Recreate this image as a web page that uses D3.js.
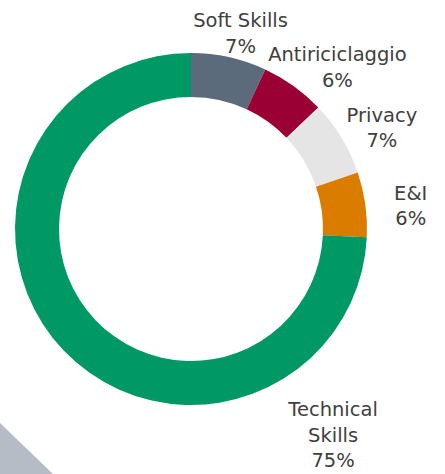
<!DOCTYPE html>
<html>
<head>
<meta charset="utf-8">
<script src="https://cdn.jsdelivr.net/npm/d3@7"></script>
<style>
  html, body { margin: 0; padding: 0; background: #fff; }
  svg { display: block; }
</style>
</head>
<body>
<div id="chart-div"></div>
<script>
// slices, clockwise from 12 o'clock
const categories = ["Soft Skills", "Antiriciclaggio", "Privacy", "E&I", "Technical Skills"];
const labelLines = [["Soft Skills"], ["Antiriciclaggio"], ["Privacy"], ["E&I"], ["Technical", "Skills"]];
const values = [7, 6, 7, 6, 75];
const pctLabels = ["7%", "6%", "7%", "6%", "75%"];
const colors = ["#5b6b7c", "#9a0033", "#e5e5e5", "#d97c00", "#009966"];

const width = 445;
const height = 474;
const cx = 191, cy = 229;
const outerR = 176, innerR = 132;

const svg = d3.select("#chart-div")
  .append("svg")
  .attr("width", width)
  .attr("height", height);

// grey corner shape bottom left
svg.append("path")
  .attr("d", "M0,423 L53," + height + " L0," + height + " Z")
  .attr("fill", "#b6bcc6");

const pie = d3.pie().sort(null).value(d => d);
const arcs = pie(values);

const arc = d3.arc().innerRadius(innerR).outerRadius(outerR);
const g = svg.append("g").attr("transform", `translate(${cx},${cy})`);

g.selectAll("path.slice")
  .data(arcs)
  .enter()
  .append("path")
  .attr("class", "slice")
  .attr("d", arc)
  .attr("fill", (d, i) => colors[i]);

// labels: box pushed outward from a point just outside the ring
const labelR = 182;
const lineH = 25.5;
const nudgeX = { "E&I": 23, "Privacy": 5 };

g.selectAll("g.lbl")
  .data(arcs)
  .enter()
  .append("g")
  .attr("class", "lbl")
  .each(function (d, i) {
    const grp = d3.select(this);
    const txt = grp.append("text")
      .attr("text-anchor", "middle")
      .attr("font-family", "'DejaVu Sans', sans-serif")
      .attr("font-size", 19.5)
      .attr("fill", "#404040");
    const lines = labelLines[i].concat([pctLabels[i]]);
    lines.forEach((t, k) => {
      txt.append("tspan").attr("x", 0).attr("y", k * lineH).attr("dy", "0.35em").text(t);
    });
    const bb = txt.node().getBBox();
    const bcx = bb.x + bb.width / 2, bcy = bb.y + bb.height / 2;
    let px, py;
    if (i === categories.length - 1) {
      // big slice: label sits lower right of the ring
      const a = 145.5 * Math.PI / 180;
      px = Math.sin(a) * 250; py = -Math.cos(a) * 250;
    } else {
      const a = (d.startAngle + d.endAngle) / 2;
      px = Math.sin(a) * labelR + Math.sin(a) * bb.width / 2 + (nudgeX[categories[i]] || 0);
      py = -Math.cos(a) * labelR - Math.cos(a) * bb.height / 2 + 6;
    }
    grp.attr("transform", `translate(${px - bcx},${py - bcy})`);
  });
</script>
</body>
</html>
